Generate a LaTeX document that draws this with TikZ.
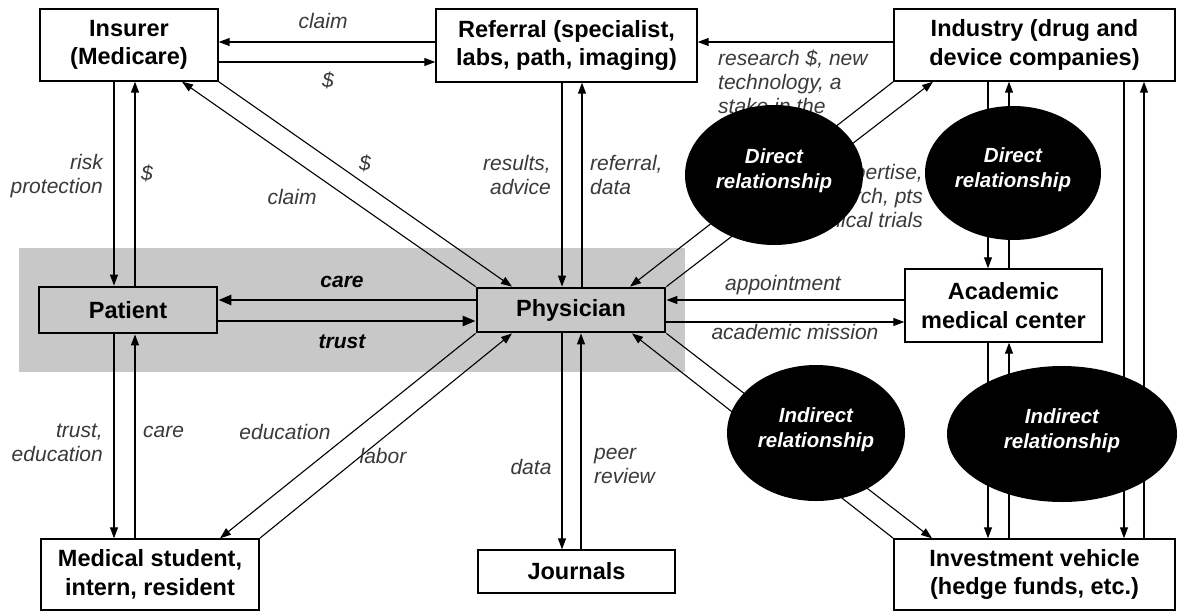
\documentclass[tikz,border=0pt]{standalone}
\usepackage{fontspec}
\setmainfont{Liberation Sans}
\usetikzlibrary{arrows.meta,shapes.geometric}
\definecolor{bandgray}{HTML}{C8C8C8}
\definecolor{labelgray}{HTML}{3A3A3A}
\begin{document}
\begin{tikzpicture}[x=1pt,y=-1pt,
  box/.style={draw=black, line width=1.4pt, fill=white, inner sep=0pt, align=center,
    font=\fontsize{23.5}{28.5}\selectfont\bfseries},
  corebox/.style={box, line width=2.8pt, fill=bandgray},
  arr/.style={line width=1.1pt, -{Triangle[length=11pt,width=8pt]}},
  thickarr/.style={line width=2.6pt, -{Triangle[length=13pt,width=10pt]}},
  lbl/.style={text=labelgray, inner sep=0pt, font=\fontsize{21}{24}\selectfont\itshape},
  blbl/.style={lbl, text=black, font=\fontsize{21}{24}\selectfont\bfseries\itshape},
  rel/.style={ellipse, fill=black, inner sep=0pt},
  reltext/.style={text=white, align=center, inner sep=0pt,
    font=\fontsize{20.5}{25}\selectfont\bfseries\itshape},
]
\useasboundingbox (0,0) rectangle (1177,611);
\fill[white] (0,0) rectangle (1177,611);
\fill[bandgray] (19,248) rectangle (685,372);

% boxes
\node[box, minimum width=178, minimum height=72] (ins) at (129,45) {Insurer\\(Medicare)};
\node[box, minimum width=261, minimum height=73] (ref) at (566.5,45.5) {Referral (specialist,\\labs, path, imaging)};
\node[box, minimum width=281, minimum height=72] (ind) at (1034.5,45) {Industry (drug and\\device companies)};
\node[corebox, minimum width=178, minimum height=46] (pat) at (128,310) {Patient};
\node[corebox, minimum width=188, minimum height=44] (phy) at (571,310) {Physician};
\node[box, minimum width=197, minimum height=73] (aca) at (1003.5,305.5) {Academic\\medical center};
\node[box, minimum width=218, minimum height=71] (med) at (150,574.5) {Medical student,\\intern, resident};
\node[box, minimum width=197, minimum height=43] (jou) at (576.5,571.5) {Journals};
\node[box, minimum width=281, minimum height=71] (inv) at (1034.5,574.5) {Investment vehicle\\(hedge funds, etc.)};

% insurer - referral
\draw[arr] (ref.west |- 0,42) -- (ins.east |- 0,42);
\draw[arr] (ins.east |- 0,62) -- (ref.west |- 0,62);
\node[lbl] at (323,21) {claim};
\node[lbl] at (328,80) {\$};
% industry - referral
\draw[arr] (ind.west |- 0,42) -- (ref.east |- 0,42);

% insurer - patient
\draw[arr] (ins.south -| 114,0) -- (pat.north -| 114,0);
\draw[arr] (pat.north -| 135,0) -- (ins.south -| 135,0);
\node[lbl, align=right, anchor=east] at (103,176) {risk\\protection};
\node[lbl] at (147,173) {\$};

% insurer - physician
\draw[arr] (ins.south east) -- (phy.north -| 512,0);
\draw[arr] (phy.north west) -- (ins.south -| 182,0);
\node[lbl] at (365,163) {\$};
\node[lbl] at (292,197) {claim};

% referral - physician
\draw[arr] (ref.south -| 562,0) -- (phy.north -| 562,0);
\draw[arr] (phy.north -| 582,0) -- (ref.south -| 582,0);
\node[lbl, align=right, anchor=east] at (551,175) {results,\\advice};
\node[lbl, align=left, anchor=west] at (590,175) {referral,\\data};

% industry - physician
\draw[arr] (ind.south west) -- (phy.north -| 630,0);
\draw[arr] (phy.north east) -- (ind.south -| 933,0);
\node[lbl, align=left, anchor=west] at (718,82) {research \$, new\\technology, a\\stake in the};
\node[lbl, align=right, anchor=east] at (923,196) {expertise,\\research, pts\\clinical trials};

% patient - physician
\draw[thickarr] (phy.west |- 0,300) -- (pat.east |- 0,300);
\draw[thickarr] (pat.east |- 0,321) -- (phy.west |- 0,321);
\node[blbl] at (342,282) {care};
\node[blbl] at (342,342) {trust};

% academic - physician
\draw[arr] (aca.west |- 0,300) -- (phy.east |- 0,300);
\draw[arr] (phy.east |- 0,322) -- (aca.west |- 0,322);
\node[lbl] at (783,285) {appointment};
\node[lbl] at (795,332) {academic mission};

% patient - medical student
\draw[arr] (pat.south -| 114,0) -- (med.north -| 114,0);
\draw[arr] (med.north -| 135,0) -- (pat.south -| 135,0);
\node[lbl, align=right, anchor=east] at (103,443) {trust,\\education};
\node[lbl, anchor=west] at (143,432) {care};

% physician - medical student
\draw[arr] (phy.south west) -- (med.north -| 220,0);
\draw[arr] (med.north east) -- (phy.south -| 512,0);
\node[lbl] at (285,432) {education};
\node[lbl] at (383,456) {labor};

% physician - journals
\draw[arr] (phy.south -| 562,0) -- (jou.north -| 562,0);
\draw[arr] (jou.north -| 581,0) -- (phy.south -| 581,0);
\node[lbl] at (531,467) {data};
\node[lbl, align=left, anchor=west] at (594,466) {peer\\review};

% physician - investment
\draw[arr] (inv.north west) -- (phy.south -| 632,0);
\draw[arr] (phy.south east) -- (inv.north -| 932,0);

% industry - academic - investment
\draw[arr] (ind.south -| 988,0) -- (aca.north -| 988,0);
\draw[arr] (aca.north -| 1009,0) -- (ind.south -| 1009,0);
\draw[arr] (aca.south -| 988,0) -- (inv.north -| 988,0);
\draw[arr] (inv.north -| 1009,0) -- (aca.south -| 1009,0);
\draw[arr] (ind.south -| 1124,0) -- (inv.north -| 1124,0);
\draw[arr] (inv.north -| 1144,0) -- (ind.south -| 1144,0);

% relationship ellipses
\node[rel, minimum width=178, minimum height=140] (dirL) at (774,175) {};
\node[reltext] at ([yshift=4pt]dirL.center) {Direct\\relationship};
\node[rel, minimum width=176, minimum height=134] (dirR) at (1013,173) {};
\node[reltext] at ([yshift=3pt]dirR.center) {Direct\\relationship};
\node[rel, minimum width=178, minimum height=136] (indL) at (816,433) {};
\node[reltext] at ([yshift=3pt]indL.center) {Indirect\\relationship};
\node[rel, minimum width=230, minimum height=136] (indR) at (1062,434) {};
\node[reltext] at ([yshift=3pt]indR.center) {Indirect\\relationship};
\end{tikzpicture}
\end{document}
